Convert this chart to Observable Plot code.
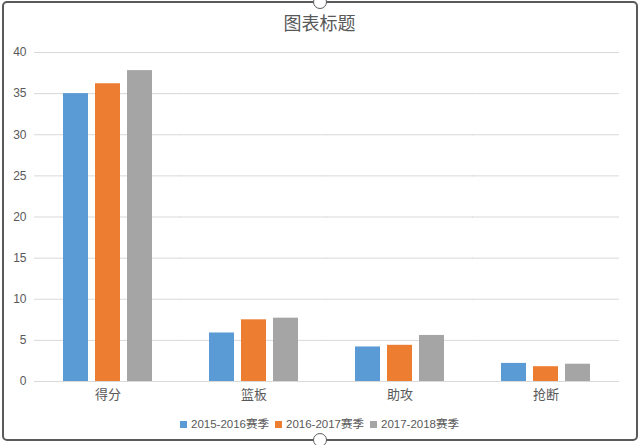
<!DOCTYPE html>
<html><head><meta charset="utf-8">
<script src="https://cdn.jsdelivr.net/npm/d3@7"></script>
<script src="https://cdn.jsdelivr.net/npm/@observablehq/plot@0.6"></script>
<style>
html,body{margin:0;padding:0;background:#fff;}
body{width:639px;height:445px;position:relative;overflow:hidden;font-family:"Liberation Sans","Noto Sans CJK SC",sans-serif;color:#595959;}
#frame{position:absolute;left:2px;top:1px;width:632px;height:436px;border:2px solid #5a5a5a;border-radius:5px;}
.handle{position:absolute;width:12px;height:12px;border-radius:50%;background:#fff;border:1px solid #5a5a5a;}
#title{position:absolute;left:0;top:10px;width:639px;text-align:center;font-size:18px;font-family:"Noto Sans CJK SC",sans-serif;color:#595959;line-height:24px;}
#chart{position:absolute;left:0;top:40px;}
#legend{position:absolute;left:0;top:416px;width:639px;display:flex;justify-content:center;align-items:center;font-size:11.5px;line-height:16px;}
.item{display:flex;align-items:center;margin:0 3px;}
.sw{width:7px;height:7px;margin-right:4px;}
</style></head><body>
<div id="frame"></div>
<div class="handle" style="left:313px;top:-5px"></div>
<div class="handle" style="left:313px;top:433px"></div>
<div id="title">图表标题</div>
<div id="chart"></div>
<div id="legend"></div>
<script>
const categories = ["得分", "篮板", "助攻", "抢断"];
const seasons = ["2015-2016赛季", "2016-2017赛季", "2017-2018赛季"];
const season2015 = [35.0, 5.9, 4.2, 2.2];
const season2016 = [36.2, 7.5, 4.4, 1.8];
const season2017 = [37.8, 7.7, 5.6, 2.1];
const seasonColors = ["#5B9BD5", "#ED7D31", "#A5A5A5"];
const yTicks = [0, 5, 10, 15, 20, 25, 30, 35, 40];

const seriesValues = [season2015, season2016, season2017];
const data = [];
categories.forEach((c, i) => {
  seasons.forEach((s, j) => data.push({category: c, season: s, value: seriesValues[j][i]}));
});

const chart = Plot.plot({
  width: 639,
  height: 370,
  marginTop: 12,
  marginBottom: 29,
  marginLeft: 33,
  marginRight: 20,
  style: {fontFamily: "'Liberation Sans','Noto Sans CJK SC',sans-serif", fontSize: "12px", color: "#595959", background: "transparent"},
  fx: {domain: categories, paddingInner: 0.38, paddingOuter: 0.19, label: null, axis: null},
  x: {domain: seasons, paddingInner: 0.21, paddingOuter: 0, axis: null},
  y: {domain: [0, 40], axis: null},
  color: {domain: seasons, range: seasonColors},
  marks: [
    Plot.ruleY(yTicks, {y: d => d, stroke: "#D9D9D9", strokeWidth: 1, insetLeft: -28, insetRight: -28}),
    Plot.axisY(yTicks, {tickSize: 0, tickPadding: 36, label: null, fontSize: 12, fill: "#595959"}),
    Plot.barY(data, {fx: "category", x: "season", y: "value", fill: "season"}),
    Plot.axisFx({anchor: "bottom", tickSize: 0, tickPadding: 8, label: null, fontSize: 13, fill: "#595959", fontFamily: "'Noto Sans CJK SC',sans-serif"})
  ]
});
document.getElementById("chart").appendChild(chart);

const legend = document.getElementById("legend");
seasons.forEach((s, j) => {
  const item = document.createElement("div");
  item.className = "item";
  const sw = document.createElement("div");
  sw.className = "sw";
  sw.style.background = seasonColors[j];
  const t = document.createElement("span");
  t.textContent = s;
  item.appendChild(sw);
  item.appendChild(t);
  legend.appendChild(item);
});
</script>
</body></html>
